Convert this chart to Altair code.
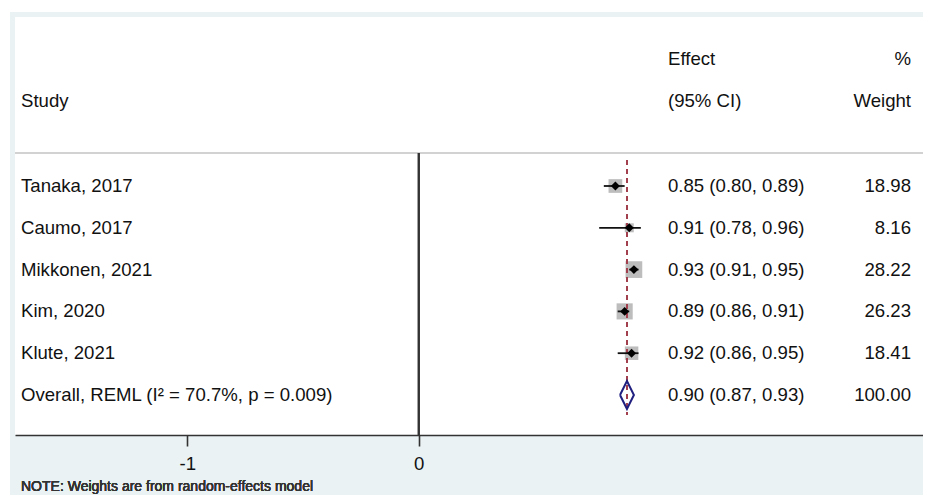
import altair as alt
import pandas as pd

# ---- data ----
studies = ["Tanaka, 2017", "Caumo, 2017", "Mikkonen, 2021", "Kim, 2020", "Klute, 2021"]
effects = [0.85, 0.91, 0.93, 0.89, 0.92]
ci_low = [0.80, 0.78, 0.91, 0.86, 0.86]
ci_high = [0.89, 0.96, 0.95, 0.91, 0.95]
weights = [18.98, 8.16, 28.22, 26.23, 18.41]

overall_label = "Overall, REML (I² = 70.7%, p = 0.009)"
overall_effect = 0.90
overall_low = 0.87
overall_high = 0.93
overall_weight = 100.00

x_ticks = [-1, 0]
header_col1 = ["Study"]
header_col2 = ["Effect", "(95% CI)"]
header_col3 = ["%", "Weight"]
note = "NOTE: Weights are from random-effects model"

# ---- tables built from the arrays ----
rows = list(range(1, len(studies) + 1))
overall_row = len(studies) + 1
df = pd.DataFrame({"study": studies, "effect": effects, "lo": ci_low, "hi": ci_high,
                   "w": weights, "row": rows})

col1 = pd.DataFrame({"t": header_col1 + studies + [overall_label],
                     "row": [-1.03] + rows + [overall_row]})
col2 = pd.DataFrame({"t": header_col2 + [f"{e:.2f} ({l:.2f}, {h:.2f})" for e, l, h in zip(effects, ci_low, ci_high)]
                     + [f"{overall_effect:.2f} ({overall_low:.2f}, {overall_high:.2f})"],
                     "row": [-2.04, -1.03] + rows + [overall_row]})
col3 = pd.DataFrame({"t": header_col3 + [f"{w:.2f}" for w in weights] + [f"{overall_weight:.2f}"],
                     "row": [-2.04, -1.03] + rows + [overall_row]})

half_h = 0.335
diamond = pd.DataFrame({
    "x": [overall_low, overall_effect, overall_high, overall_effect, overall_low],
    "y": [overall_row, overall_row - half_h, overall_row, overall_row + half_h, overall_row],
    "o": [0, 1, 2, 3, 4],
})

W, H = 908, 418
BG = "#eaf2f3"
FONT = "Liberation Sans"
XS = alt.Scale(domain=[-1.7445, 2.1793], nice=False, zero=False)
YS = alt.Scale(domain=[-3.043, 6.957], reverse=True, nice=False, zero=False)
AX = alt.Axis(values=x_ticks, title="", labelExpr="toString(datum.value)", zindex=2)
Y_TOP_RULE = 0.21

base = alt.Chart(df)

# light frame around the white plot region
band_left = alt.Chart(df).mark_rect(color=BG, clip=False).encode(
    x=alt.value(-5), x2=alt.value(0), y=alt.value(-5), y2=alt.value(H + 70))
band_top = alt.Chart(df).mark_rect(color=BG, clip=False).encode(
    x=alt.value(-5), x2=alt.value(W), y=alt.value(-5), y2=alt.value(0))
band_bottom = alt.Chart(df).mark_rect(color=BG, clip=False).encode(
    x=alt.value(-5), x2=alt.value(W), y=alt.value(H), y2=alt.value(H + 70))

sep = alt.Chart(df).mark_rule(color="#d2d2d2", strokeWidth=2).encode(
    x=alt.value(0), x2=alt.value(W),
    y=alt.Y(datum=Y_TOP_RULE, scale=YS, axis=None))

zero_rule = alt.Chart(df).mark_rule(color="#333333", strokeWidth=1.6).encode(
    x=alt.X(datum=0, scale=XS, axis=AX),
    y=alt.Y(datum=Y_TOP_RULE, scale=YS, axis=None),
    y2=alt.Y2(datum=YS.domain[1]))

boxes = base.mark_square(color="#bdbdbd", opacity=1, filled=True).encode(
    x=alt.X("effect:Q", scale=XS, axis=AX),
    y=alt.Y("row:Q", scale=YS, axis=None),
    size=alt.Size("w:Q", scale=alt.Scale(domain=[0, 100], range=[0, 990]), legend=None))

dash = alt.Chart(df).mark_rule(color="#a3404f", strokeWidth=1.5, strokeDash=[5, 4]).encode(
    x=alt.X(datum=overall_effect, scale=XS, axis=AX),
    y=alt.Y(datum=0.38, scale=YS, axis=None),
    y2=alt.Y2(datum=6.48))

ci = base.mark_rule(color="#111111", strokeWidth=1.8).encode(
    x=alt.X("lo:Q", scale=XS, axis=AX), x2="hi:Q",
    y=alt.Y("row:Q", scale=YS, axis=None))

pts = base.mark_point(shape="diamond", filled=True, color="#000000", size=80, opacity=1).encode(
    x=alt.X("effect:Q", scale=XS, axis=AX),
    y=alt.Y("row:Q", scale=YS, axis=None))

dia = alt.Chart(diamond).mark_line(color="#1f1f80", strokeWidth=2).encode(
    x=alt.X("x:Q", scale=XS, axis=AX),
    y=alt.Y("y:Q", scale=YS, axis=None),
    order="o:Q")

def col(data, xpix, align):
    return alt.Chart(data).mark_text(font=FONT, fontSize=18.6, align=align, baseline="middle",
                                     color="#111111").encode(
        x=alt.value(xpix), y=alt.Y("row:Q", scale=YS, axis=None), text="t:N")

t1 = col(col1, 6, "left")
t2 = col(col2, 653, "left")
t3 = col(col3, 896, "right")

note_t = alt.Chart(df).mark_text(font=FONT, fontSize=14, fontWeight="normal", align="left",
                                 baseline="middle", color="#333333", text=note).encode(
    x=alt.value(6), y=alt.Y(datum=8.2, scale=YS, axis=None))

chart = alt.layer(band_left, band_top, band_bottom, sep, zero_rule, boxes, dash, ci, pts, dia,
                  t1, t2, t3, note_t).properties(
    width=W, height=H,
    autosize=alt.AutoSizeParams(type="none"),
    padding={"left": 7, "top": 9, "right": 0, "bottom": 60},
    background="white",
).configure_view(fill="white", strokeWidth=0).configure_axis(
    domainColor="#333333", domainWidth=1.6, tickColor="#333333", tickWidth=1.6, tickSize=11,
    labelFont=FONT, labelFontSize=18.6, labelColor="#111111", labelPadding=8, grid=False,
)

chart.save("out.html", embed_options={"renderer": "svg", "actions": False})
